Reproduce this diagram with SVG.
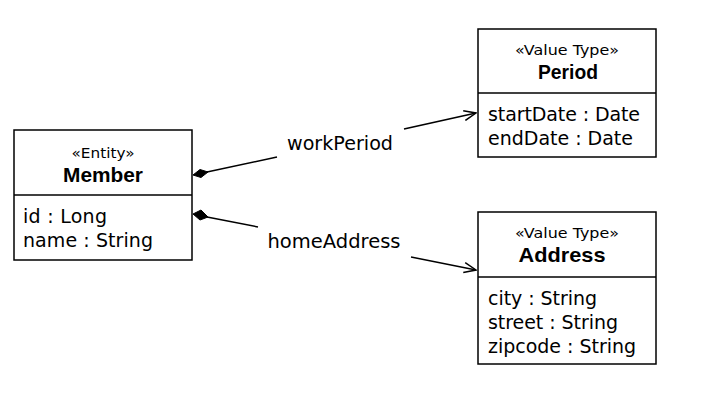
<svg xmlns="http://www.w3.org/2000/svg" width="706" height="412" viewBox="0 0 706 412">
<defs>
<style>
.box{fill:#fff;stroke:#000;stroke-width:1.5}
.st{font-family:"DejaVu Sans",Verdana,sans-serif;font-size:14px;text-anchor:middle;fill:#000}
.nm{font-family:"Liberation Sans",Arial,sans-serif;font-size:21px;font-weight:bold;text-anchor:middle;fill:#000}
.at{font-family:"DejaVu Sans",Verdana,sans-serif;font-size:19px;fill:#000}
.lb{font-family:"DejaVu Sans",Verdana,sans-serif;font-size:19px;text-anchor:middle;fill:#000}
.ln{fill:none;stroke:#000;stroke-width:1.5}
.dm{fill:#000;stroke:#000;stroke-width:1}
</style>
<marker id="arr" markerWidth="14" markerHeight="12" refX="13" refY="6" orient="auto" markerUnits="userSpaceOnUse">
<path d="M1,1 L13,6 L1,11" fill="none" stroke="#000" stroke-width="1.5"/>
</marker>
</defs>
<rect width="706" height="412" fill="#fff"/>
<g id="member">
<rect class="box" x="14" y="130" width="178" height="130"/>
<line class="ln" x1="14" y1="195" x2="192" y2="195"/>
<text class="st" x="103" y="158" textLength="63" lengthAdjust="spacingAndGlyphs">«Entity»</text>
<text class="nm" x="103" y="182" textLength="80" lengthAdjust="spacingAndGlyphs">Member</text>
<text class="at" x="23" y="223" textLength="84" lengthAdjust="spacing">id : Long</text>
<text class="at" x="23" y="247" textLength="130" lengthAdjust="spacing">name : String</text>
</g>
<g id="period">
<rect class="box" x="478" y="29" width="178" height="128"/>
<line class="ln" x1="478" y1="93" x2="656" y2="93"/>
<text class="st" x="567" y="55" textLength="104" lengthAdjust="spacingAndGlyphs">«Value Type»</text>
<text class="nm" x="568" y="79" textLength="60" lengthAdjust="spacingAndGlyphs">Period</text>
<text class="at" x="488" y="121" textLength="152" lengthAdjust="spacing">startDate : Date</text>
<text class="at" x="488" y="145" textLength="145" lengthAdjust="spacing">endDate : Date</text>
</g>
<g id="address">
<rect class="box" x="478" y="212" width="178" height="152"/>
<line class="ln" x1="478" y1="277" x2="656" y2="277"/>
<text class="st" x="567" y="238" textLength="104" lengthAdjust="spacingAndGlyphs">«Value Type»</text>
<text class="nm" x="562" y="262" textLength="87" lengthAdjust="spacingAndGlyphs">Address</text>
<text class="at" x="488" y="305" textLength="109" lengthAdjust="spacing">city : String</text>
<text class="at" x="488" y="329" textLength="130" lengthAdjust="spacing">street : String</text>
<text class="at" x="488" y="353" textLength="148" lengthAdjust="spacing">zipcode : String</text>
</g>
<g id="connectors">
<line class="ln" x1="207" y1="172" x2="277" y2="157"/>
<polygon class="dm" points="193,175 200,169.5 208,172 201,177.5"/>
<line class="ln" x1="404" y1="129" x2="476" y2="113" marker-end="url(#arr)"/>
<text class="lb" x="340" y="150" textLength="106" lengthAdjust="spacingAndGlyphs">workPeriod</text>
<line class="ln" x1="207" y1="217" x2="258" y2="227"/>
<polygon class="dm" points="193,214 201,210 208,217 200,220"/>
<line class="ln" x1="411" y1="257" x2="476" y2="270" marker-end="url(#arr)"/>
<text class="lb" x="334" y="248" textLength="133" lengthAdjust="spacingAndGlyphs">homeAddress</text>
</g>
</svg>
